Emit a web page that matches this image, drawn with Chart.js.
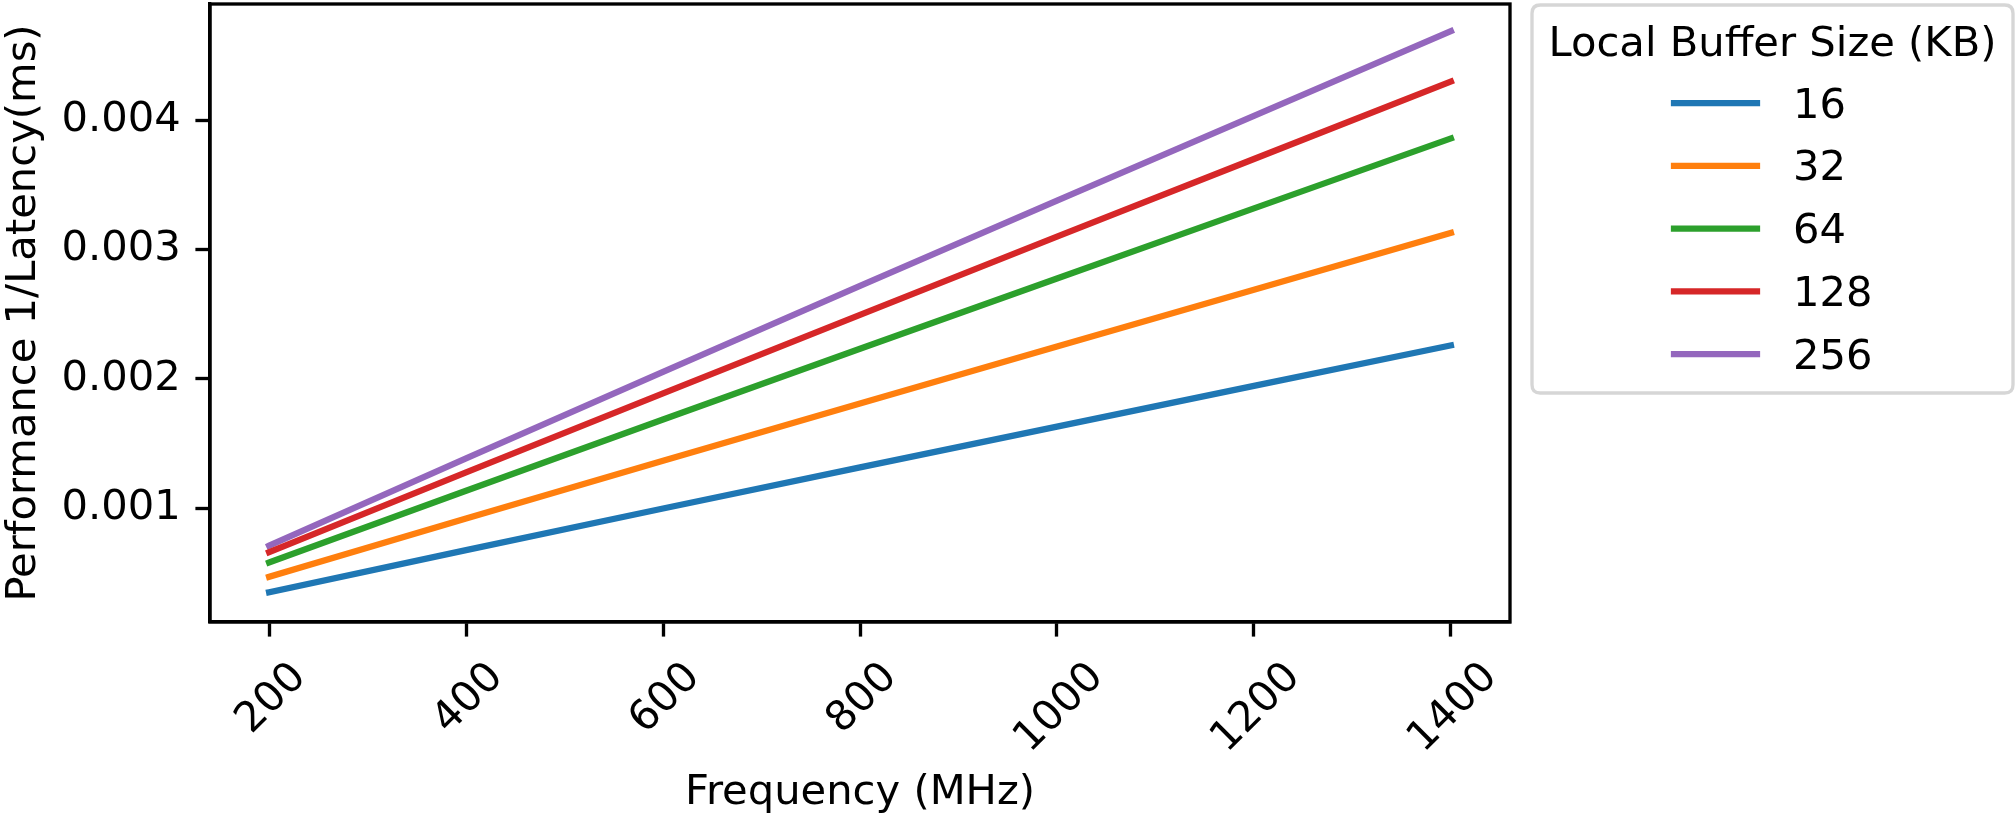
<!DOCTYPE html>
<html>
<head>
<meta charset="utf-8">
<title>Performance vs Frequency</title>
<script src="https://cdn.jsdelivr.net/npm/chart.js@4.4.1/dist/chart.umd.min.js"></script>
<style>
  html, body { margin: 0; padding: 0; background: #ffffff; }
  canvas { display: block; }
</style>
</head>
<body>
<canvas id="perfChart" width="2015" height="816"></canvas>
<script>
// data
const frequencies = [200, 400, 600, 800, 1000, 1200, 1400];
const bufferSizes = ["16", "32", "64", "128", "256"];
const perf16 = [0.00035, 0.000676, 0.000998, 0.001316, 0.001631, 0.001946, 0.00226];
const perf32 = [0.00047, 0.00092, 0.001367, 0.00181, 0.00225, 0.00269, 0.00313];
const perf64 = [0.00058, 0.001135, 0.001686, 0.002233, 0.002777, 0.003319, 0.00386];
const perf128 = [0.00066, 0.001277, 0.001889, 0.002496, 0.0031, 0.003701, 0.0043];
const perf256 = [0.00071, 0.001385, 0.002055, 0.00272, 0.00338, 0.004035, 0.00469];

const xTicks = [200, 400, 600, 800, 1000, 1200, 1400];
const xTickLabels = ["200", "400", "600", "800", "1000", "1200", "1400"];
const yTicks = [0.001, 0.002, 0.003, 0.004];
const yTickLabels = ["0.001", "0.002", "0.003", "0.004"];

const xTitle = "Frequency (MHz)";
const yTitle = "Performance 1/Latency(ms)";
const legendTitle = "Local Buffer Size (KB)";

// styles
const seriesColors = ["#1f77b4", "#ff7f0e", "#2ca02c", "#d62728", "#9467bd"];
const FONT_SIZE = 41.67;
const FONT = FONT_SIZE + "px 'DejaVu Sans'";
const LINE_W = 6.25;
const AXIS_W = 3.33;
const TICK_LEN = 14.6;

const allSeries = [perf16, perf32, perf64, perf128, perf256];

const datasets = allSeries.map((vals, i) => ({
  label: bufferSizes[i],
  data: frequencies.map((f, j) => ({ x: f, y: vals[j] })),
  borderColor: seriesColors[i],
  backgroundColor: seriesColors[i],
  borderWidth: LINE_W,
  borderCapStyle: "square",
  borderJoinStyle: "round",
  pointRadius: 0,
  tension: 0,
  fill: false,
}));

// axis titles, rotated x labels, frame and legend
const extrasPlugin = {
  id: "extras",
  afterDraw(chart) {
    const ctx = chart.ctx;
    const area = chart.chartArea;
    const xScale = chart.scales.x;
    ctx.save();

    // full frame
    ctx.strokeStyle = "#000";
    ctx.lineWidth = AXIS_W;
    ctx.strokeRect(area.left, area.top, area.right - area.left, area.bottom - area.top);

    ctx.font = FONT;
    ctx.fillStyle = "#000";

    // x tick labels, rotated 45 deg around their centre
    ctx.textAlign = "center";
    ctx.textBaseline = "alphabetic";
    xTicks.forEach((v, i) => {
      const label = xTickLabels[i];
      const w = ctx.measureText(label).width;
      const box = (w + FONT_SIZE * 1.164) * Math.SQRT1_2;
      const px = xScale.getPixelForValue(v);
      const py = area.bottom + TICK_LEN * 2 + box / 2;
      ctx.save();
      ctx.translate(px, py);
      ctx.rotate(-Math.PI / 4);
      ctx.fillText(label, 0, FONT_SIZE * 0.346);
      ctx.restore();
    });

    // x title
    ctx.fillText(xTitle, (area.left + area.right) / 2, 804);

    // y title
    ctx.save();
    ctx.translate(35, (area.top + area.bottom) / 2);
    ctx.rotate(-Math.PI / 2);
    ctx.fillText(yTitle, 0, 0);
    ctx.restore();

    // legend box
    const bx = 1532, by = 5, bw = 481, bh = 388, r = 8.3;
    ctx.beginPath();
    ctx.moveTo(bx + r, by);
    ctx.lineTo(bx + bw - r, by);
    ctx.quadraticCurveTo(bx + bw, by, bx + bw, by + r);
    ctx.lineTo(bx + bw, by + bh - r);
    ctx.quadraticCurveTo(bx + bw, by + bh, bx + bw - r, by + bh);
    ctx.lineTo(bx + r, by + bh);
    ctx.quadraticCurveTo(bx, by + bh, bx, by + bh - r);
    ctx.lineTo(bx, by + r);
    ctx.quadraticCurveTo(bx, by, bx + r, by);
    ctx.closePath();
    ctx.fillStyle = "#ffffff";
    ctx.fill();
    ctx.strokeStyle = "#d6d6d6";
    ctx.lineWidth = AXIS_W;
    ctx.stroke();

    ctx.fillStyle = "#000";
    ctx.textAlign = "center";
    ctx.fillText(legendTitle, bx + bw / 2, 56);

    ctx.textAlign = "left";
    chart.data.datasets.forEach((ds, i) => {
      const ly = 103 + i * 62.8;
      ctx.beginPath();
      ctx.moveTo(1674, ly);
      ctx.lineTo(1757, ly);
      ctx.strokeStyle = ds.borderColor;
      ctx.lineWidth = LINE_W;
      ctx.lineCap = "square";
      ctx.stroke();
      ctx.fillStyle = "#000";
      ctx.fillText(ds.label, 1793, ly + 14.5);
    });

    ctx.restore();
  },
};

const ctx = document.getElementById("perfChart").getContext("2d");
const perfChart = new Chart(ctx, {
  type: "line",
  data: { datasets: datasets },
  plugins: [extrasPlugin],
  options: {
    responsive: false,
    animation: false,
    devicePixelRatio: 1,
    layout: { padding: { left: 0, top: 4, right: 505, bottom: 0 } },
    plugins: {
      legend: { display: false },
      tooltip: { enabled: false },
    },
    scales: {
      x: {
        type: "linear",
        min: 140,
        max: 1460,
        afterBuildTicks: (s) => { s.ticks = xTicks.map((v) => ({ value: v })); },
        afterFit: (s) => { s.height = 194; s.paddingLeft = 0; s.paddingRight = 0; },
        ticks: {
          color: "rgba(0,0,0,0)",
          autoSkip: false,
          minRotation: 0,
          maxRotation: 0,
          font: { family: "DejaVu Sans", size: FONT_SIZE },
          padding: TICK_LEN,
        },
        grid: {
          drawOnChartArea: false,
          drawTicks: true,
          tickLength: TICK_LEN,
          tickWidth: AXIS_W,
          tickColor: "#000",
        },
        border: { display: true, color: "#000", width: AXIS_W },
      },
      y: {
        type: "linear",
        min: 0.00012,
        max: 0.0049,
        afterBuildTicks: (s) => { s.ticks = yTicks.map((v) => ({ value: v })); },
        afterFit: (s) => { s.width = 210; s.paddingTop = 0; s.paddingBottom = 0; },
        ticks: {
          callback: (value, index) => yTickLabels[index],
          color: "#000",
          font: { family: "DejaVu Sans", size: FONT_SIZE },
          padding: TICK_LEN,
        },
        grid: {
          drawOnChartArea: false,
          drawTicks: true,
          tickLength: TICK_LEN,
          tickWidth: AXIS_W,
          tickColor: "#000",
        },
        border: { display: true, color: "#000", width: AXIS_W },
      },
    },
  },
});
</script>
</body>
</html>
